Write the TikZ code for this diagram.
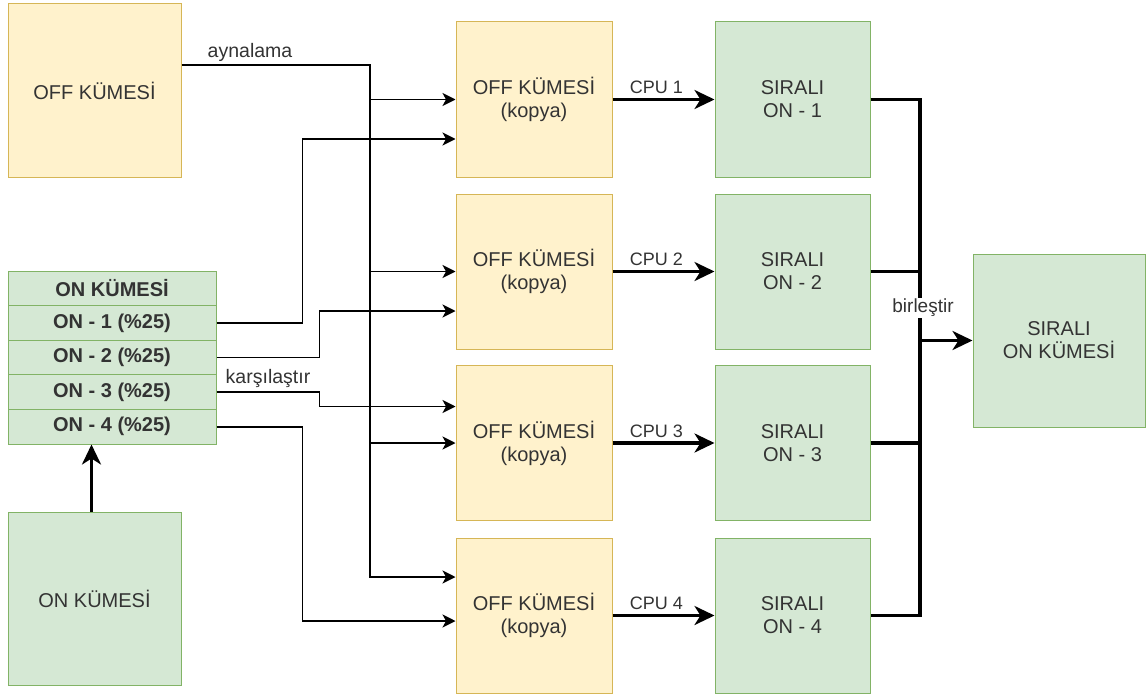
\documentclass[tikz,border=0pt]{standalone}
\usepackage{fontspec}
\setmainfont{Liberation Sans}
\usetikzlibrary{arrows.meta,calc}

\definecolor{offfill}{HTML}{FFF2CC}
\definecolor{offline}{HTML}{D6B656}
\definecolor{onfill}{HTML}{D5E8D4}
\definecolor{online}{HTML}{82B366}
\definecolor{txt}{HTML}{333333}

\tikzset{
  boxtext/.style={font=\fontsize{20}{23}\selectfont, text=txt, align=center, inner sep=0pt},
  offbox/.style={boxtext, draw=offline, fill=offfill, line width=1pt},
  onbox/.style={boxtext, draw=online, fill=onfill, line width=1pt},
  onrow/.style={onbox, font=\fontsize{20}{23}\selectfont\bfseries,
                minimum width=208pt, minimum height=34.6pt},
  thinlink/.style={line width=1.8pt, -{Stealth[length=13pt,width=13pt,inset=3.5pt]}},
  thinline/.style={line width=1.8pt},
  thicklink/.style={line width=3.2pt, -{Stealth[length=20pt,width=19pt,inset=6pt]}},
  thickline/.style={line width=3.2pt},
  edgelabel/.style={font=\fontsize{19.5}{22}\selectfont, text=txt, inner sep=1pt},
  cpulabel/.style={font=\fontsize{18}{21}\selectfont, text=txt, inner sep=1pt},
}

\begin{document}
\begin{tikzpicture}[x=1pt,y=-1pt]
  \fill[white] (0,0) rectangle (1147,698);
  \useasboundingbox (0,0) rectangle (1147,698);

  % source sets
  \node[offbox, minimum width=173pt, minimum height=173pt] (offA) at (94.5,90.5) {OFF KÜMESİ};
  \node[onbox, minimum width=173pt, minimum height=173pt] (onB) at (94.5,598.5) {ON KÜMESİ};

  % ON set split into quarters
  \node[onrow] (onhead) at (112,288.3) {ON KÜMESİ};
  \node[onrow] (on1) at (112,322.9) {ON - 1 (\%25)};
  \node[onrow] (on2) at (112,357.5) {ON - 2 (\%25)};
  \node[onrow] (on3) at (112,392.1) {ON - 3 (\%25)};
  \node[onrow] (on4) at (112,426.7) {ON - 4 (\%25)};

  % copies of the OFF set and sorted parts
  \foreach \i/\y in {1/99.5, 2/271.5, 3/443, 4/615.5} {
    \node[offbox, minimum width=156pt, minimum height=155pt] (copy\i) at (534,\y) {OFF KÜMESİ\\(kopya)};
    \node[onbox, minimum width=155pt, minimum height=155pt] (sorted\i) at (792.5,\y) {SIRALI\\ON - \i};
  }

  % merged result
  \node[onbox, minimum width=172pt, minimum height=173pt] (final) at (1059,340.5) {SIRALI\\ON KÜMESİ};

  % mirroring of the OFF set
  \coordinate (mir) at (370,65);
  \draw[thinlink] ([yshift=25.5pt]offA.east) -- (mir) |- ([yshift=38.5pt]copy4.west);
  \draw[thinlink] (mir |- copy1.west) -- (copy1.west);
  \draw[thinlink] (mir |- copy2.west) -- (copy2.west);
  \draw[thinlink] (mir |- copy3.west) -- (copy3.west);
  \node[edgelabel] (mirlabel) at (250,52) {aynalama};

  % quarters to the copies
  \draw[thinlink] (on1.east) -- ++(86,0) |- ([yshift=-39.5pt]copy1.west);
  \draw[thinlink] (on2.east) -- ++(103,0) |- ([yshift=-39.5pt]copy2.west);
  \draw[thinlink] (on3.east) -- ++(103,0) |- ([yshift=36.5pt]copy3.west);
  \draw[thinlink] (on4.east) -- ++(86,0) |- ([yshift=-5.5pt]copy4.west);
  \node[edgelabel] (cmplabel) at (268,378) {karşılaştır};

  % ON set feeds the split table
  \draw[thicklink] ([xshift=-3pt]onB.north) -- ([xshift=-3pt]onB.north |- on4.south);

  % parallel sorting
  \foreach \i in {1,...,4} {
    \draw[thicklink] (copy\i.east) -- node[cpulabel, pos=0.43, above=3pt] {CPU \i} (sorted\i.west);
  }

  % merge
  \coordinate (mx) at (920,340.5);
  \draw[thickline] (sorted1.east) -- (sorted1.east -| mx) -- (sorted4.east -| mx) -- (sorted4.east);
  \draw[thickline] (sorted2.east) -- (sorted2.east -| mx);
  \draw[thickline] (sorted3.east) -- (sorted3.east -| mx);
  \draw[thicklink] (mx) -- (final.west);
  \node[edgelabel, fill=white, font=\fontsize{19}{22}\selectfont] (mergelabel) at (923,308) {birleştir};
\end{tikzpicture}
\end{document}
